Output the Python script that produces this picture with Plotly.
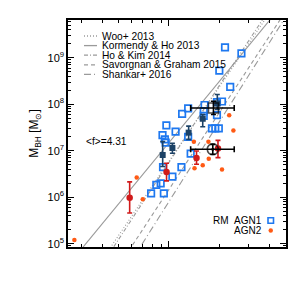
import numpy as np
import plotly.graph_objects as go

# ---------------- data (log10 sigma [km/s], log10 M_BH [Msun]) ----------------
agn1_logsig = [2.335, 2.433, 2.301, 2.366, 2.317, 2.287, 2.213, 2.115, 2.079, 2.208,
               2.208, 2.287, 1.985, 1.962, 2.040, 1.976, 1.981, 2.257, 2.277, 2.298,
               2.115, 2.130, 1.965, 2.075, 2.021, 1.925, 1.951, 1.894, 1.970]
agn1_logm = [9.221, 9.092, 8.722, 8.373, 8.058, 8.043, 7.983, 7.908, 7.790, 7.844,
             7.747, 7.764, 7.544, 7.336, 7.411, 7.244, 7.173, 7.480, 7.480, 7.480,
             7.298, 6.938, 6.645, 6.645, 6.445, 6.266, 6.296, 6.081, 6.081]

agn2_logsig = [1.436, 1.808, 1.844, 2.149, 2.236, 2.360, 2.385, 2.153, 2.202, 2.238, 2.317]
agn2_logm = [5.081, 6.424, 5.955, 7.195, 7.195, 7.764, 7.437, 6.623, 6.687, 6.827, 6.597]

bin1_logsig = [1.963, 2.021, 2.118, 2.202, 2.289]
bin1_logm = [6.908, 7.058, 7.388, 7.687, 8.015]
bin1_err_up = [0.287, 0.100, 0.141, 0.092, 0.193]
bin1_err_dn = [0.248, 0.114, 0.144, 0.171, 0.128]

bin2_logsig = [1.766, 1.986, 2.165, 2.293]
bin2_logm = [5.987, 6.544, 6.844, 7.045]
bin2_err_up = [0.343, 0.186, 0.150, 0.178]
bin2_err_dn = [0.327, 0.193, 0.135, 0.193]

mean_logsig = [2.266, 2.262]
mean_logm = [7.919, 7.030]
mean_xerr_up = [0.124, 0.128]
mean_xerr_dn = [0.136, 0.132]
mean_yerr_up = [0.145, 0.107]
mean_yerr_dn = [0.140, 0.107]

rel_names = ["Woo+ 2013", "Kormendy & Ho 2013", "Ho & Kim 2014",
             "Savorgnan & Graham 2015", "Shankar+ 2016"]
rel_alpha = [8.37, 8.49, 8.40, 7.82, 7.62]
rel_beta = [5.31, 4.38, 5.50, 5.50, 5.70]
rel_dash = ["1px,2px", "solid", "4px,2px,1px,2px", "4px,3px", "7px,3px,1px,3px"]

f_text = "<f>=4.31"

# ---------------- figure ----------------
GRAY = "#9a9a9a"
BLUE = "#1e78f0"
NAVY = "#1c4266"
RED = "#d01a1a"
ORANGE = "#ff5a14"

xmin, xmax = np.log10(25), np.log10(500)
ymin, ymax = 4.93, 9.81

fig = go.Figure()

sig = np.logspace(xmin - 0.05, xmax + 0.05, 60)
for a, b, d in zip(rel_alpha, rel_beta, rel_dash):
    fig.add_trace(go.Scatter(x=sig, y=10 ** (a + b * np.log10(sig / 200.0)), mode="lines",
                             line=dict(color=GRAY, width=1.1, dash=d), showlegend=False,
                             hoverinfo="skip"))


def lin(v):
    return [10 ** x for x in v]


def errs(logv, up, dn):
    pu = [10 ** (l + u) - 10 ** l for l, u in zip(logv, up)]
    pd = [10 ** l - 10 ** (l - d) for l, d in zip(logv, dn)]
    return pu, pd


fig.add_trace(go.Scatter(x=lin(agn1_logsig), y=lin(agn1_logm), mode="markers",
                         marker=dict(symbol="square-open", size=6.5, color=BLUE,
                                     line=dict(width=1.7, color=BLUE)), showlegend=False))

fig.add_trace(go.Scatter(x=lin(agn2_logsig), y=lin(agn2_logm), mode="markers",
                         marker=dict(symbol="circle", size=4.5, color=ORANGE), showlegend=False))

u, d = errs(bin1_logm, bin1_err_up, bin1_err_dn)
fig.add_trace(go.Scatter(x=lin(bin1_logsig), y=lin(bin1_logm), mode="markers",
                         marker=dict(symbol="square", size=6, color=NAVY),
                         error_y=dict(type="data", symmetric=False, array=u, arrayminus=d,
                                      color=NAVY, thickness=1.6, width=2.5),
                         showlegend=False))

u, d = errs(bin2_logm, bin2_err_up, bin2_err_dn)
fig.add_trace(go.Scatter(x=lin(bin2_logsig), y=lin(bin2_logm), mode="markers",
                         marker=dict(symbol="circle", size=6.5, color=RED),
                         error_y=dict(type="data", symmetric=False, array=u, arrayminus=d,
                                      color=RED, thickness=1.6, width=2.5),
                         showlegend=False))

xu, xd = errs(mean_logsig, mean_xerr_up, mean_xerr_dn)
yu, yd = errs(mean_logm, mean_yerr_up, mean_yerr_dn)
fig.add_trace(go.Scatter(x=lin(mean_logsig), y=lin(mean_logm), mode="markers",
                         marker=dict(symbol=["square-open", "circle-open"], size=[10, 11],
                                     color="black", line=dict(width=1.6, color="black")),
                         error_x=dict(type="data", symmetric=False, array=xu, arrayminus=xd,
                                      color="black", thickness=1.6, width=3),
                         error_y=dict(type="data", symmetric=False, array=yu, arrayminus=yd,
                                      color="black", thickness=1.6, width=2.5),
                         showlegend=False))
fig.add_trace(go.Scatter(x=lin(mean_logsig[1:]), y=lin(mean_logm[1:]), mode="markers",
                         marker=dict(symbol="circle", size=3, color="black"), showlegend=False))

# ---------------- layout (page body has an 8px default margin) ----------------
OFF = 8
W, H = 307 - OFF, 291 - OFF
L, R, T, B = 68 - OFF, 21, 20 - OFF, 44
pw, ph = W - L - R, H - T - B


def px(x):  # page pixel -> paper
    return (x - OFF - L) / pw


def py(y):
    return (H - B - (y - OFF)) / ph


shapes = []
annotations = []
rows = [36, 45.6, 55.2, 64.8, 74.4]
for name, d, yy in zip(rel_names, rel_dash, rows):
    shapes.append(dict(type="line", xref="paper", yref="paper", x0=px(84), x1=px(97),
                       y0=py(yy), y1=py(yy), line=dict(color=GRAY, width=1.3, dash=d)))
    annotations.append(dict(xref="paper", yref="paper", x=px(99.5), y=py(yy), text=name,
                            showarrow=False, xanchor="left", yanchor="middle",
                            font=dict(size=10.2, color="black")))

annotations.append(dict(xref="paper", yref="paper", x=px(83.5), y=py(141.5),
                        text=f_text.replace("<", "&lt;").replace(">", "&gt;"),
                        showarrow=False, xanchor="left", yanchor="middle",
                        font=dict(size=10.2, color="black")))

annotations.append(dict(xref="paper", yref="paper", x=px(264), y=py(220.5),
                        text="RM\u00a0\u00a0AGN1", showarrow=False, xanchor="right",
                        yanchor="middle", font=dict(size=10, color="black")))
annotations.append(dict(xref="paper", yref="paper", x=px(264), y=py(230.5),
                        text="AGN2", showarrow=False, xanchor="right",
                        yanchor="middle", font=dict(size=10, color="black")))
shapes.append(dict(type="rect", xref="paper", yref="paper", x0=px(268), x1=px(273.5),
                   y0=py(223.2), y1=py(217.7), line=dict(color=BLUE, width=1.6)))
shapes.append(dict(type="circle", xref="paper", yref="paper", x0=px(268.5), x1=px(273),
                   y0=py(232.8), y1=py(228.3), fillcolor=ORANGE, line=dict(color=ORANGE, width=0)))

ytick_vals = [1e5, 1e6, 1e7, 1e8, 1e9]
ytick_text = ["10<sup>5</sup>", "10<sup>6</sup>", "10<sup>7</sup>", "10<sup>8</sup>", "10<sup>9</sup>"]
yminor = [m * 10 ** k for k in range(4, 10) for m in range(2, 10)]
xminor = [30, 40, 50, 60, 70, 80, 90, 200, 300, 400]

fig.update_layout(
    width=W, height=H,
    margin=dict(l=L, r=R, t=T, b=B, autoexpand=False),
    paper_bgcolor="white", plot_bgcolor="white",
    font=dict(family="Liberation Sans, Arial, sans-serif", color="black"),
    shapes=shapes, annotations=annotations,
    xaxis=dict(type="log", range=[xmin, xmax], showline=True, linecolor="black", linewidth=1.5,
               mirror="ticks", ticks="inside", ticklen=6, tickwidth=1, tickcolor="black",
               tickvals=[100], showticklabels=False, showgrid=False, zeroline=False,
               minor=dict(ticks="inside", ticklen=3, tickwidth=1, tickcolor="black",
                          tickvals=xminor, showgrid=False)),
    yaxis=dict(type="log", range=[ymin, ymax], showline=True, linecolor="black", linewidth=1.5,
               mirror="ticks", ticks="inside", ticklen=6, tickwidth=1, tickcolor="black",
               tickvals=ytick_vals, ticktext=ytick_text, showgrid=False, zeroline=False,
               tickfont=dict(size=11, color="black"),
               title=dict(text="M<sub>BH</sub> [M<sub>\u2299</sub>]",
                          font=dict(size=12, color="black"), standoff=6),
               minor=dict(ticks="inside", ticklen=3, tickwidth=1, tickcolor="black",
                          tickvals=yminor, showgrid=False)),
)

fig.write_html("out.html")
